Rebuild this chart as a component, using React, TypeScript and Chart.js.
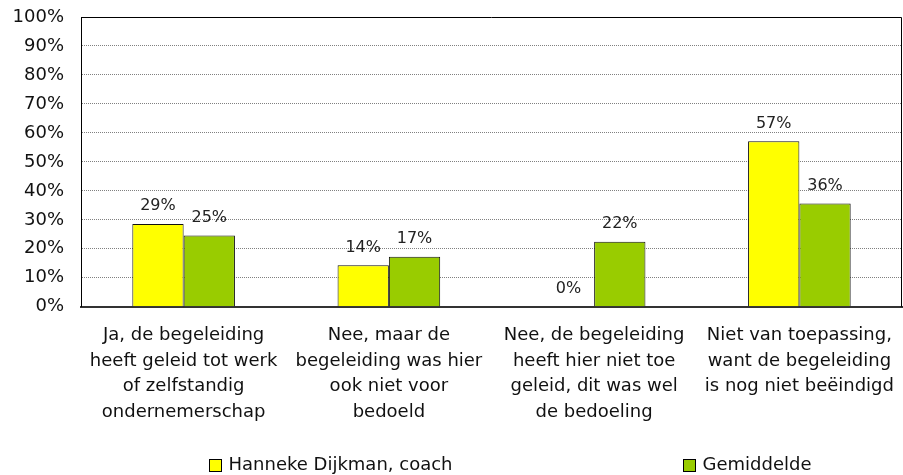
import React, { useEffect, useRef } from "react";
import { Chart, registerables } from "chart.js";

Chart.register(...registerables);

const categories: string[][] = [
  ["Ja, de begeleiding", "heeft geleid tot werk", "of zelfstandig", "ondernemerschap"],
  ["Nee, maar de", "begeleiding was hier", "ook niet voor", "bedoeld"],
  ["Nee, de begeleiding", "heeft hier niet toe", "geleid, dit was wel", "de bedoeling"],
  ["Niet van toepassing,", "want de begeleiding", "is nog niet beëindigd"],
];
const seriesNames = ["Hanneke Dijkman, coach", "Gemiddelde"];
const coachValues = [28.6, 14.3, 0, 57.1];
const averageValues = [24.6, 17.3, 22.4, 35.6];
const yTickMax = 100;
const yTickStep = 10;

const FONT = 'Verdana, "DejaVu Sans", sans-serif';

const boxPlugin = {
  id: "boxPlugin",
  afterDatasetsDraw(chart: any) {
    const { ctx, chartArea } = chart;
    ctx.save();
    ctx.strokeStyle = "#000";
    ctx.lineWidth = 1;
    ctx.beginPath();
    ctx.moveTo(chartArea.left + 0.5, chartArea.bottom);
    ctx.lineTo(chartArea.left + 0.5, chartArea.top + 0.5);
    ctx.lineTo(chartArea.right - 0.5, chartArea.top + 0.5);
    ctx.lineTo(chartArea.right - 0.5, chartArea.bottom);
    ctx.stroke();
    ctx.restore();
  },
};

const labelPlugin = {
  id: "valueLabels",
  afterDatasetsDraw(chart: any) {
    const { ctx } = chart;
    ctx.save();
    ctx.font = `16px ${FONT}`;
    ctx.fillStyle = "#222";
    ctx.textAlign = "center";
    ctx.textBaseline = "alphabetic";
    chart.data.datasets.forEach((ds: any, di: number) => {
      const meta = chart.getDatasetMeta(di);
      meta.data.forEach((bar: any, i: number) => {
        const v = ds.data[i];
        ctx.fillText(`${Math.round(v)}%`, bar.x, bar.y - 13.5);
      });
    });
    ctx.restore();
  },
};

const legendPlugin = {
  id: "customLegend",
  afterDraw(chart: any) {
    const { ctx, width } = chart;
    const starts = [0.2315, 0.7565];
    ctx.save();
    ctx.font = `18px ${FONT}`;
    ctx.textBaseline = "middle";
    ctx.textAlign = "left";
    chart.data.datasets.forEach((ds: any, i: number) => {
      const x = Math.round(width * starts[i]) + 0.5;
      const y = 459.5;
      ctx.fillStyle = ds.backgroundColor;
      ctx.fillRect(x, y, 12, 12);
      ctx.strokeStyle = "#000";
      ctx.lineWidth = 1;
      ctx.strokeRect(x, y, 12, 12);
      ctx.fillStyle = "#111";
      ctx.fillText(ds.label, x + 19, y + 5.5);
    });
    ctx.restore();
  },
};

export default function App() {
  const ref = useRef<HTMLCanvasElement>(null);
  useEffect(() => {
    document.body.style.margin = "0";
    if (!ref.current) return;
    const chart = new Chart(ref.current, {
      type: "bar",
      data: {
        labels: categories,
        datasets: [
          {
            label: seriesNames[0],
            data: coachValues,
            backgroundColor: "#FFFF00",
            borderColor: "#111",
            borderWidth: 1,
            categoryPercentage: 0.5,
            barPercentage: 1,
          },
          {
            label: seriesNames[1],
            data: averageValues,
            backgroundColor: "#99CC00",
            borderColor: "#111",
            borderWidth: 1,
            categoryPercentage: 0.5,
            barPercentage: 1,
          },
        ],
      },
      options: {
        animation: false,
        responsive: false,
        maintainAspectRatio: false,
        layout: { padding: { left: 12, top: 17, right: 1, bottom: 34 } },
        plugins: {
          legend: { display: false },
          tooltip: { enabled: false },
        },
        scales: {
          x: {
            grid: { display: false, drawTicks: false },
            border: { color: "#333", width: 2 },
            afterFit: (s: any) => {
              s.paddingLeft = 0;
              s.paddingRight = 0;
            },
            ticks: {
              color: "#111",
              font: { family: FONT, size: 18, lineHeight: 1.42 },
              padding: 16,
              maxRotation: 0,
              autoSkip: false,
            },
          },
          y: {
            min: 0,
            max: yTickMax,
            afterFit: (s: any) => {
              s.width = 69;
              s.paddingTop = 0;
              s.paddingBottom = 0;
            },
            grid: {
              color: "#808080",
              drawTicks: false,
            },
            border: { color: "#000", width: 1, dash: [1, 1] },
            ticks: {
              stepSize: yTickStep,
              color: "#111",
              font: { family: FONT, size: 18 },
              padding: 17,
              callback: (v: any) => `${v}%`,
            },
          },
        },
      },
      plugins: [boxPlugin, labelPlugin, legendPlugin],
    });
    return () => chart.destroy();
  }, []);
  return (
    <div style={{ width: 903, height: 475 }}>
      <canvas ref={ref} width={903} height={475} style={{ width: 903, height: 475 }} />
    </div>
  );
}
